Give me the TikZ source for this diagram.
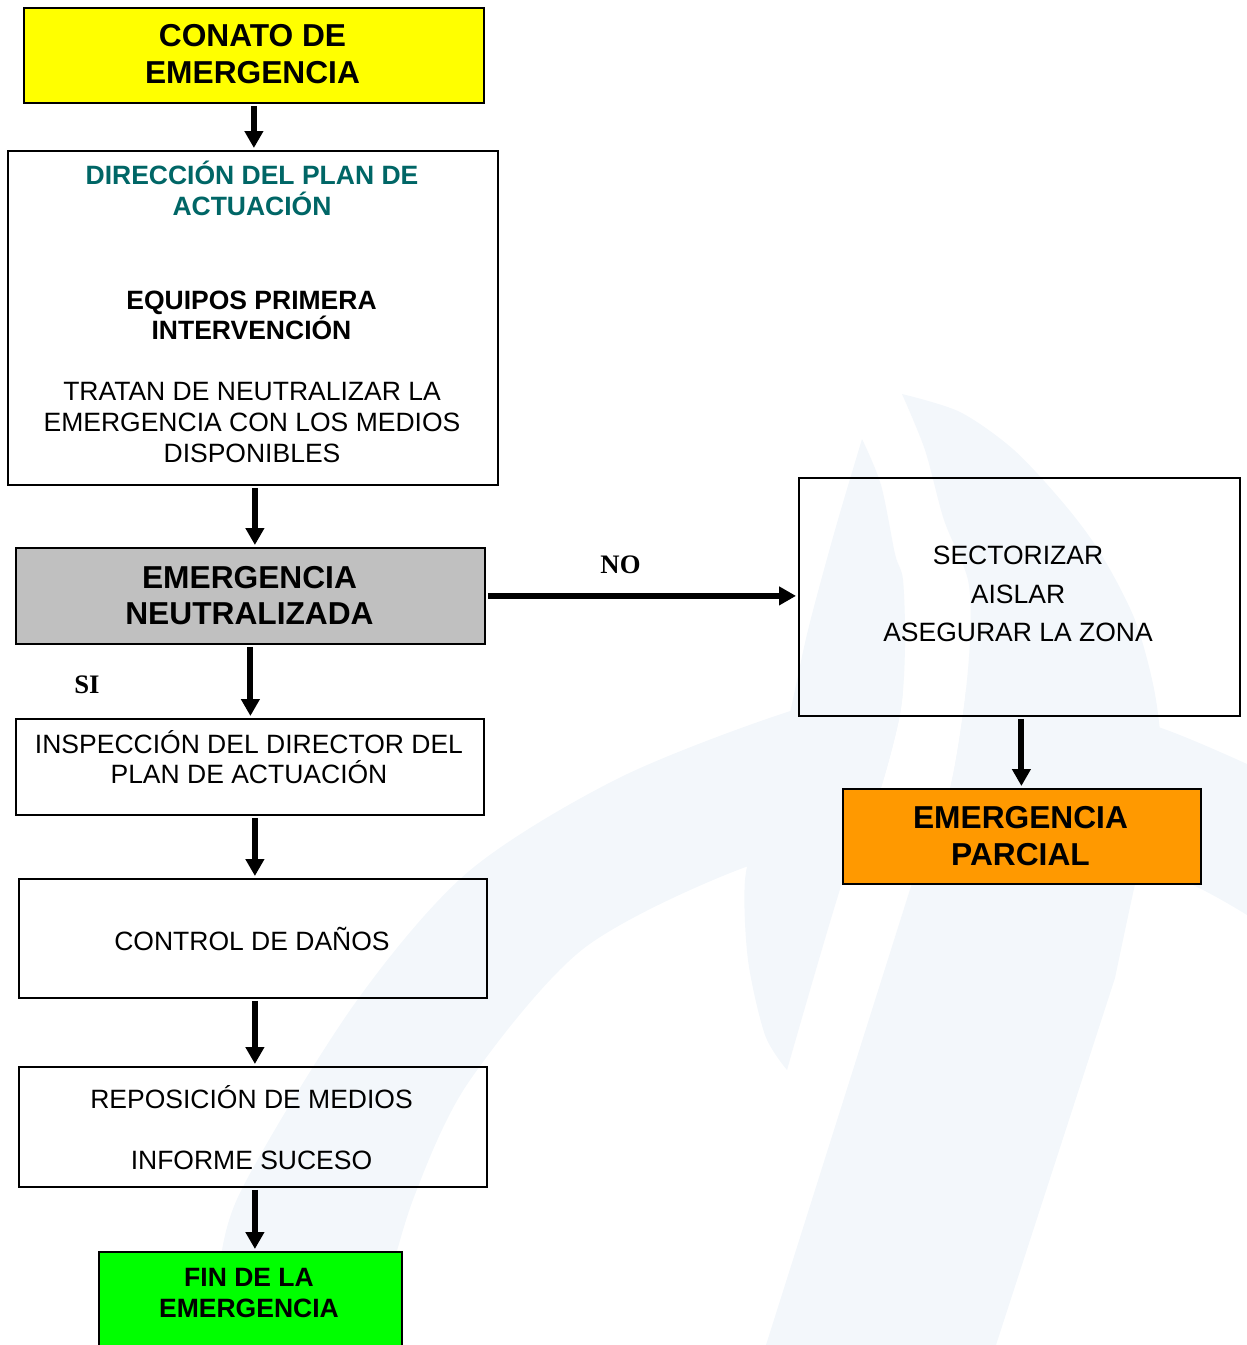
\documentclass[tikz,border=0pt]{standalone}
\usepackage{fontspec}
\setmainfont{Liberation Sans}
\newfontfamily\serifb{Liberation Serif}
\usetikzlibrary{arrows.meta,calc}
\definecolor{wm}{RGB}{243,247,251}
\definecolor{tealtxt}{RGB}{0,102,102}
\definecolor{yel}{RGB}{255,255,0}
\definecolor{grayb}{RGB}{192,192,192}
\definecolor{orng}{RGB}{255,153,0}
\definecolor{grn}{RGB}{0,255,0}
\tikzset{
  box/.style={draw=black, line width=1.8pt, inner sep=0pt, anchor=north west},
  bigb/.style={font=\bfseries\fontsize{31.7}{38}\selectfont, anchor=base, inner sep=0pt},
  medb/.style={font=\bfseries\fontsize{26.5}{30}\selectfont, anchor=base, inner sep=0pt},
  med/.style={font=\fontsize{26.5}{30}\selectfont, anchor=base, inner sep=0pt},
  lbl/.style={font=\serifb\bfseries\fontsize{26.7}{30}\selectfont, anchor=base, inner sep=0pt},
  arr/.style={line width=6pt, -{Triangle[length=17pt,width=18pt]}, shorten <=2pt, shorten >=2pt}
}
\begin{document}
\begin{tikzpicture}[x=1pt,y=-1pt]
\useasboundingbox (0,0) rectangle (1247,1345);
\clip (0,0) rectangle (1247,1345);
% watermark: arc band
\fill[wm] plot[smooth] coordinates {(205,1345) (215,1300) (238,1197) (353,1006) (468,872) (621,777) (800,708) (900,693) (975,688) (1050,695) (1164,729) (1247,764)}
  -- (1260,770) -- (1260,920) -- (1247,915)
  -- plot[smooth] coordinates {(1247,915) (1181,880) (1070,850) (960,840) (850,850) (743,868) (583,949) (468,1083) (414,1197) (384,1300) (375,1345)} -- cycle;
% gap between leaf and stroke
\fill[white] plot[smooth] coordinates {(862,439) (881,485) (895,554) (903,580) (905,647) (900,714) (877,800) (843,880) (787,1070)}
  -- (851,1070) -- (913,880)
  -- plot[smooth] coordinates {(913,880) (947,800) (963,714) (970,640) (968,580) (944,520) (925,450) (902,394)} -- cycle;
% leaf
\fill[wm] plot[smooth] coordinates {(862,439) (835,530) (808,630) (787,725) (760,820) (745,880) (748,960) (765,1035) (787,1070)}
  -- plot[smooth] coordinates {(787,1070) (843,880) (877,800) (900,714) (905,647) (903,580) (895,554) (881,485) (862,439)} -- cycle;
% stroke
\fill[wm] (766,1345) -- (913,880)
  -- plot[smooth] coordinates {(913,880) (947,800) (963,714) (970,640) (968,580) (944,520) (925,450) (902,394)}
  -- plot[smooth] coordinates {(902,394) (960,412) (1014,450) (1065,505) (1101,554) (1135,620) (1155,694) (1162,770) (1150,830) (1136,880) (1115,978)}
  -- (996,1345) -- cycle;
% boxes
\node[box, fill=yel, minimum width=460pt, minimum height=95pt] (conato) at (23,7) {};
\node[box, minimum width=490pt, minimum height=334pt] (dir) at (7,150) {};
\node[box, fill=grayb, minimum width=469pt, minimum height=96pt] (neut) at (15,547) {};
\node[box, minimum width=441pt, minimum height=238pt] (sect) at (798,477) {};
\node[box, fill=orng, minimum width=358pt, minimum height=95pt] (parc) at (842,788) {};
\node[box, minimum width=468pt, minimum height=96pt] (insp) at (15,718) {};
\node[box, minimum width=468pt, minimum height=119pt] (ctrl) at (18,878) {};
\node[box, minimum width=468pt, minimum height=120pt] (repo) at (18,1066) {};
\node[box, fill=grn, minimum width=303pt, minimum height=130pt] (fin) at (98,1251) {};
% texts
\node[bigb] (t1) at (252.5,46) {CONATO DE};
\node[bigb] (t2) at (252.5,83) {EMERGENCIA};
\node[medb, text=tealtxt] (t3) at (252,184) {DIRECCIÓN DEL PLAN DE};
\node[medb, text=tealtxt] (t4) at (252,215) {ACTUACIÓN};
\node[medb] (t5) at (251.5,309.5) {EQUIPOS PRIMERA};
\node[medb] (t6) at (251.5,339.5) {INTERVENCIÓN};
\node[med] (t7) at (252,400.5) {TRATAN DE NEUTRALIZAR LA};
\node[med] (t8) at (252,431.5) {EMERGENCIA CON LOS MEDIOS};
\node[med] (t9) at (252,462.5) {DISPONIBLES};
\node[bigb] (t10) at (249.5,588) {EMERGENCIA};
\node[bigb] (t11) at (249.5,624) {NEUTRALIZADA};
\node[lbl] (no) at (620.5,573) {NO};
\node[lbl] (si) at (87,693) {SI};
\node[med] (t12) at (1018,564) {SECTORIZAR};
\node[med] (t13) at (1018,603) {AISLAR};
\node[med] (t14) at (1018,641) {ASEGURAR LA ZONA};
\node[bigb] (t15) at (1020.5,828) {EMERGENCIA};
\node[bigb] (t16) at (1020.5,865) {PARCIAL};
\node[med] (t17) at (249,753) {INSPECCIÓN DEL DIRECTOR DEL};
\node[med] (t18) at (249,783) {PLAN DE ACTUACIÓN};
\node[med] (t19) at (252,950) {CONTROL DE DAÑOS};
\node[med] (t20) at (251.5,1108) {REPOSICIÓN DE MEDIOS};
\node[med] (t21) at (251.5,1169) {INFORME SUCESO};
\node[medb] (t22) at (249,1286) {FIN DE LA};
\node[medb] (t23) at (249,1317) {EMERGENCIA};
% connectors
\draw[arr] (conato.south) -- (conato.south |- dir.north);
\draw[arr] ($(dir.south)+(2,0)$) -- ($(dir.south |- neut.north)+(2,0)$);
\draw[arr] (neut.south) -- (neut.south |- insp.north);
\draw[arr] (neut.east) -- (neut.east -| sect.west);
\draw[arr] ($(sect.south)+(2,0)$) -- ($(sect.south |- parc.north)+(2,0)$);
\draw[arr] ($(insp.south)+(5,0)$) -- ($(insp.south |- ctrl.north)+(5,0)$);
\draw[arr] ($(ctrl.south)+(2,0)$) -- ($(ctrl.south |- repo.north)+(2,0)$);
\draw[arr] ($(repo.south)+(2,0)$) -- ($(repo.south |- fin.north)+(2,0)$);
\end{tikzpicture}
\end{document}
